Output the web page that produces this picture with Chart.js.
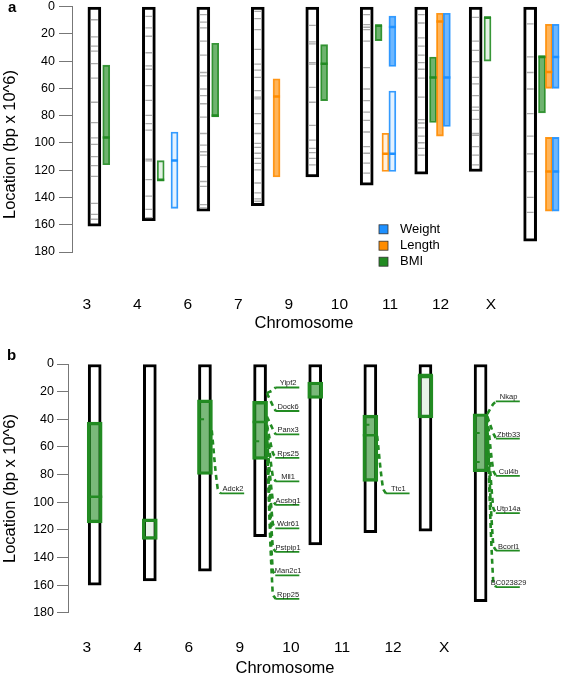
<!DOCTYPE html>
<html>
<head>
<meta charset="utf-8">
<script src="https://cdn.jsdelivr.net/npm/chart.js@4.4.1/dist/chart.umd.min.js"></script>
<style>
  html, body { margin: 0; padding: 0; background: #fff; }
  #wrap { position: relative; width: 566px; height: 674px; }
  canvas { position: absolute; left: 0; }
  #chartA { top: 0; }
  #chartB { top: 335px; }
</style>
</head>
<body>
<div id="wrap">
  <canvas id="chartA" width="566" height="335"></canvas>
  <canvas id="chartB" width="566" height="339"></canvas>
</div>
<script>
// ---------- panel a ----------
const chromsA = ["3", "4", "6", "7", "9", "10", "11", "12", "X"];
const chromLenA = [161, 157, 150, 146, 125, 131, 123, 121, 172];
// marker positions drawn as grey bands inside each chromosome (Mb)
const markersA = [
  [9.7, 22.3, 29, 32.7, 41.9, 52.5, 70.2, 85.2, 96.3, 101.1, 110.1, 116.6, 124.6, 144.4, 152.4, 156],
  [7.3, 15.7, 21.8, 33.9, 43.5, 46, 58, 68.9, 79.8, 85.9, 90.7, 112, 113.2, 127, 139.1, 148.8, 154.8],
  [6, 11.4, 15.7, 25.4, 35.6, 48.4, 50.8, 60.5, 65.3, 71.3, 81.1, 93.1, 101.6, 106.5, 108.9, 117.4, 128.3, 131.9, 145.2, 147.6],
  [3.6, 8.9, 16.9, 31.4, 42.3, 46.7, 52, 61.7, 66.5, 67.7, 78.6, 85.9, 93.1, 100.4, 103.3, 107.6, 111.3, 115, 119.8, 129.4, 136.7, 141, 142.8],
  [13.8, 25.9, 27.4, 41.1, 42.3, 59.3, 70.2, 87.1, 98, 104, 107.2, 111.3, 116.1],
  [6, 13.3, 15.2, 16.9, 25.4, 44.8, 60.5, 69, 77.4, 83.5, 92, 102.8, 107.6, 114.9, 122.2],
  [6, 12.1, 23, 29, 35.6, 41.2, 46, 52.5, 66.5, 83, 85.4, 89, 95.1, 99.9, 104, 108.9],
  [8, 25.4, 32.2, 40.4, 52, 56.8, 65.3, 73.8, 76.2, 82.7, 93.1, 94.4, 102.8, 108.9, 116.1],
  [12.8, 37, 48.4, 60.5, 78.6, 95.1, 108.1, 121, 140, 151]
];

const traits = ["Weight", "Length", "BMI"];
const traitRgb = ["30,144,255", "255,140,0", "34,139,34"];

// QTL intervals (Mb); sig = 1 filled, 0 pale
const qtlChromA = ["3", "4", "4", "6", "7", "9", "10", "10", "10", "10", "11", "11", "11", "12", "X", "X", "X", "X", "X"];
const qtlTraitA = ["BMI", "BMI", "Weight", "BMI", "Length", "BMI", "BMI", "Weight", "Length", "Weight", "BMI", "Length", "Weight", "BMI", "BMI", "Length", "Weight", "Length", "Weight"];
const qtlStartA = [43, 113, 92, 27, 53, 28, 14, 7, 93, 62, 37, 5, 5, 8, 36, 13, 13, 96, 96];
const qtlEndA = [116, 128, 148, 81, 125, 69, 25, 44, 121, 121, 85, 95, 88, 40, 78, 60, 60, 150, 150];
const qtlPeakA = [96, 127, 113, 80, 66, 42, 14, 15, 108, 108, 52, 11, 52, 8, 37, 48, 37, 121, 121];
const qtlSigA = [1, 0, 0, 1, 1, 1, 1, 1, 0, 0, 1, 1, 1, 0, 1, 1, 1, 1, 1];

// ---------- panel b ----------
const chromsB = ["3", "4", "6", "9", "10", "11", "12", "X"];
const chromLenB = [160, 157, 150, 125, 131, 122, 121, 172];
const qtlChromB = ["3", "4", "6", "9", "10", "11", "12", "X"];
const qtlStartB = [42, 112, 26, 27, 13, 37, 8, 36];
const qtlEndB = [115, 127, 80, 69, 25, 85, 39, 78];
const qtlSigB = [1, 0, 1, 1, 1, 1, 0, 1];
const peakChromB = ["3", "9", "11", "12"];
const peakPosB = [96, 42, 51.5, 8];
const tickChromB = ["6", "9", "11", "X", "X"];
const tickPosB = [40, 56, 44, 50, 71];

const geneNames = ["Adck2", "Yipf2", "Dock6", "Panx3", "Rps25", "Mll1", "Acsbg1", "Wdr61", "Pstpip1", "Man2c1", "Rpp25", "Ttc1", "Nkap", "Zbtb33", "Cul4b", "Utp14a", "Bcorl1", "BC023829"];
const geneChrom = ["6", "9", "9", "9", "9", "9", "9", "9", "9", "9", "9", "11", "X", "X", "X", "X", "X", "X"];
const genePos = [48, 21, 21, 38, 44, 45, 55, 55, 56, 57, 57, 52, 36, 38, 38.5, 45, 48, 50];
const geneLabelY = [93.7, 17, 34, 51, 68, 85, 102, 119, 136, 153, 170, 93.7, 27, 54, 81, 108, 135, 161.5];

// ---------- layout helpers ----------
const fontFam = '"Liberation Sans", Arial, Helvetica, sans-serif';
Chart.defaults.font.family = fontFam;
const PX_A = 51.2, PX_B = 52.5; // pixels per x unit
const chrXA = k => 0.15 + 1.078 * k;
const chrXB = k => 0.155 + 1.08 * k;
const slotPx = { BMI: 12, Length: 19, Weight: 26 };
const rgba = (t, a) => `rgba(${traitRgb[traits.indexOf(t)]},${a})`;
const green = "rgb(34,139,34)";

function drawCommon(chart, c) {
  const ctx = chart.ctx;
  ctx.save();
  ctx.fillStyle = "#000";
  ctx.textAlign = "left";
  ctx.textBaseline = "alphabetic";
  ctx.font = `bold 15px ${fontFam}`;
  ctx.fillText(c.letter, c.letterX, c.letterY);

  ctx.font = `16.5px ${fontFam}`;
  ctx.save();
  ctx.translate(c.yTitleX, c.yTitleY);
  ctx.rotate(-Math.PI / 2);
  ctx.textBaseline = "middle";
  ctx.fillText("Location (bp x 10^6)", 0, 0);
  ctx.restore();

  ctx.textAlign = "center";
  ctx.fillText("Chromosome", c.xTitleX, c.xTitleY);
  ctx.restore();
}

const annotA = {
  id: "annotA",
  afterDraw(chart) {
    drawCommon(chart, { letter: "a", letterX: 8, letterY: 12, yTitleX: 10, yTitleY: 219, xTitleX: 304, xTitleY: 328 });
    const ctx = chart.ctx;
    ctx.save();
    ctx.font = `13px ${fontFam}`;
    ctx.textBaseline = "middle";
    const rows = [229.3, 245.7, 261.7];
    traits.forEach((t, i) => {
      ctx.fillStyle = rgba(t, 1);
      ctx.fillRect(379, rows[i] - 4.5, 9, 9);
      ctx.strokeStyle = "#333";
      ctx.lineWidth = 0.8;
      ctx.strokeRect(379, rows[i] - 4.5, 9, 9);
      ctx.fillStyle = "#000";
      ctx.fillText(t, 400, rows[i]);
    });
    ctx.restore();
  }
};

const annotB = {
  id: "annotB",
  afterDraw(chart) {
    drawCommon(chart, { letter: "b", letterX: 7, letterY: 25, yTitleX: 10, yTitleY: 228, xTitleX: 285, xTitleY: 337.5 });
    const ctx = chart.ctx, xs = chart.scales.x, ys = chart.scales.y;
    ctx.save();
    ctx.font = `7.5px ${fontFam}`;
    ctx.fillStyle = "#222";
    ctx.textAlign = "center";
    ctx.textBaseline = "alphabetic";
    geneNames.forEach((g, i) => {
      const cx = xs.getPixelForValue(chrXB(chromsB.indexOf(geneChrom[i])));
      ctx.fillText(g, cx + 28, ys.getPixelForValue(geneLabelY[i]) - 2);
    });
    ctx.restore();
  }
};

function baseOptions(cfg) {
  return {
    responsive: false,
    animation: false,
    devicePixelRatio: 1,
    events: [],
    layout: { padding: { top: cfg.top, left: 0, right: 0, bottom: 0 } },
    plugins: { legend: { display: false }, tooltip: { enabled: false } },
    scales: {
      x: {
        type: "linear", min: cfg.xmin, max: cfg.xmax, offset: false,
        grid: { display: false, drawTicks: false },
        border: { display: false },
        ticks: {
          autoSkip: false, maxRotation: 0, padding: cfg.xpad, color: "#000",
          font: { family: fontFam, size: 15.5 },
          callback: v => cfg.names[v] ?? ""
        },
        afterBuildTicks: s => { s.ticks = cfg.names.map((_, i) => ({ value: i })); },
        afterFit: s => { s.height = cfg.xh; s.paddingLeft = 0; s.paddingRight = 0; }
      },
      y: {
        type: "linear", reverse: true, min: 0, max: 180, stacked: false,
        grid: { display: true, drawOnChartArea: false, drawTicks: true, tickLength: cfg.tl, color: "#777" },
        border: { display: true, color: "#777", width: 1 },
        ticks: { stepSize: 20, padding: cfg.ypad, color: "#000", font: { family: fontFam, size: 12.5 } },
        afterFit: s => { s.width = cfg.yw; s.paddingTop = 0; s.paddingBottom = 0; }
      }
    }
  };
}

// ---------- chart a ----------
const chromBarsA = chromsA.map((c, k) => ({ x: chrXA(k), y: [0, chromLenA[k]] }));
const markerPtsA = [];
markersA.forEach((list, k) => list.forEach(m => markerPtsA.push({ x: chrXA(k), y: m })));
const qtlPtsA = qtlChromA.map((c, i) => ({
  x: chrXA(chromsA.indexOf(c)) + slotPx[qtlTraitA[i]] / PX_A,
  y: [qtlStartA[i], qtlEndA[i]]
}));
const peakPtsA = qtlPtsA.map((p, i) => ({ x: p.x, y: qtlPeakA[i] }));

new Chart(document.getElementById("chartA"), {
  type: "bar",
  data: {
    datasets: [
      { data: chromBarsA, backgroundColor: "#fff", borderColor: "#000", borderWidth: 3,
        borderSkipped: false, barThickness: 13, stack: "s", order: 10 },
      { type: "scatter", data: markerPtsA, pointStyle: "line", pointRadius: 3.5,
        pointBorderColor: "#aaaaaa", pointBorderWidth: 1.3, order: 8 },
      { data: qtlPtsA,
        backgroundColor: qtlTraitA.map((t, i) => rgba(t, qtlSigA[i] ? 0.65 : 0.12)),
        borderColor: qtlTraitA.map(t => rgba(t, 0.9)),
        borderWidth: 1.2, borderSkipped: false, barThickness: 7, stack: "s", order: 5 },
      { type: "scatter", data: peakPtsA, pointStyle: "line", pointRadius: 3.5,
        pointBorderColor: qtlTraitA.map(t => rgba(t, 1)), pointBorderWidth: 2.5, order: 1 }
    ]
  },
  options: baseOptions({ top: 5, xmin: -0.293, xmax: 9.355, xpad: 43, xh: 83, tl: 13, ypad: 4, yw: 72, names: chromsA }),
  plugins: [annotA]
});

// ---------- chart b ----------
const chromBarsB = chromsB.map((c, k) => ({ x: chrXB(k), y: [0, chromLenB[k]] }));
const qtlPtsB = qtlChromB.map((c, i) => ({ x: chrXB(chromsB.indexOf(c)), y: [qtlStartB[i], qtlEndB[i]] }));
const peakPtsB = peakChromB.map((c, i) => ({ x: chrXB(chromsB.indexOf(c)), y: peakPosB[i] }));
const tickPtsB = tickChromB.map((c, i) => ({ x: chrXB(chromsB.indexOf(c)) - 3.5 / PX_B, y: tickPosB[i] }));
const underlinePts = geneNames.map((g, i) => ({ x: chrXB(chromsB.indexOf(geneChrom[i])) + 28 / PX_B, y: geneLabelY[i] }));
const connectors = geneNames.map((g, i) => {
  const cx = chrXB(chromsB.indexOf(geneChrom[i]));
  const ly = geneLabelY[i];
  return {
    type: "line",
    data: [
      { x: cx + 7 / PX_B, y: genePos[i] },
      { x: cx + 13 / PX_B, y: ly + (ly > genePos[i] ? -4 : 2) },
      { x: cx + 16 / PX_B, y: ly }
    ],
    borderColor: green, borderWidth: 2.6, borderDash: [5, 4], pointRadius: 0,
    tension: 0.35, fill: false, order: 3
  };
});

new Chart(document.getElementById("chartB"), {
  type: "bar",
  data: {
    datasets: [
      { data: chromBarsB, backgroundColor: "#fff", borderColor: "#000", borderWidth: 3,
        borderSkipped: false, barThickness: 13, stack: "s", order: 10 },
      { data: qtlPtsB,
        backgroundColor: qtlSigB.map(s => s ? "rgba(34,139,34,0.6)" : "rgba(34,139,34,0.1)"),
        borderColor: green, borderWidth: 2.8, borderSkipped: false, barThickness: 15, stack: "s", order: 5 },
      { type: "scatter", data: peakPtsB, pointStyle: "line", pointRadius: 7.5,
        pointBorderColor: green, pointBorderWidth: 2.5, order: 2 },
      { type: "scatter", data: tickPtsB, pointStyle: "line", pointRadius: 2.5,
        pointBorderColor: green, pointBorderWidth: 2, order: 2 },
      ...connectors,
      { type: "scatter", data: underlinePts, pointStyle: "line", pointRadius: 12,
        pointBorderColor: green, pointBorderWidth: 1.8, order: 1 }
    ]
  },
  options: baseOptions({ top: 29, xmin: -0.368, xmax: 9.118, xpad: 26, xh: 61.3, tl: 11, ypad: 3, yw: 68, names: chromsB }),
  plugins: [annotB]
});
</script>
</body>
</html>
